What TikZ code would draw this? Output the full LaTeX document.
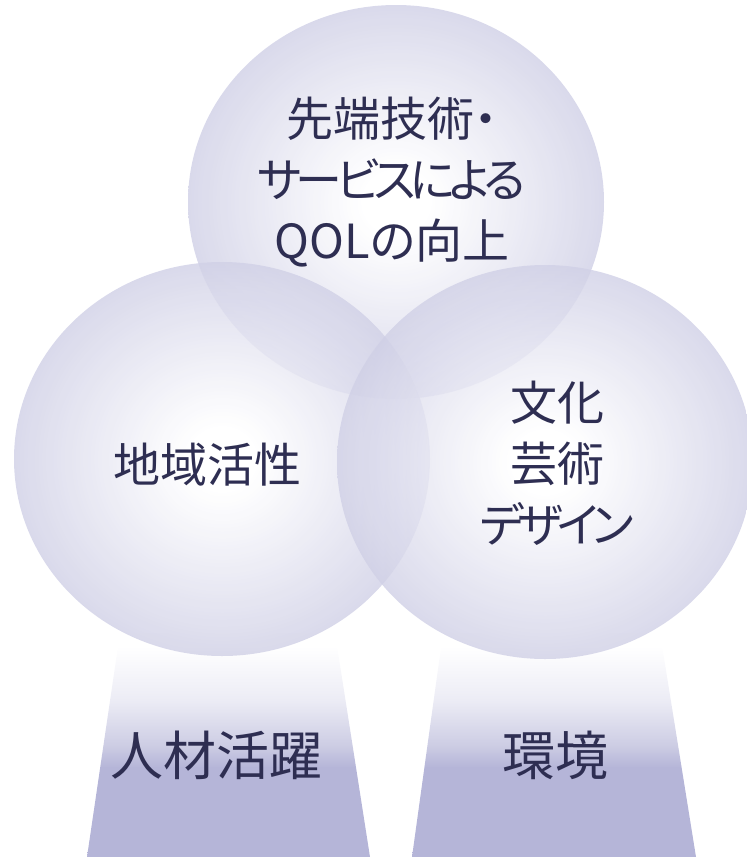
\documentclass[tikz,border=0pt]{standalone}
\usepackage{fontspec}
\usetikzlibrary{shapes.geometric}
\newfontfamily\jp{Noto Sans CJK JP}[RawFeature=+palt]
\newcommand\nk{\kern-6pt}
\definecolor{cEdge}{RGB}{208,208,230}
\definecolor{cPil}{RGB}{181,181,216}
\definecolor{cPilMid}{RGB}{205,205,228}
\definecolor{cPilHi}{RGB}{236,236,245}
\definecolor{cTxt}{RGB}{46,46,82}
\pgfdeclareradialshading{circfill}{\pgfpoint{0bp}{0bp}}{color(0bp)=(white); color(4bp)=(white); color(25bp)=(cEdge); color(50bp)=(cEdge)}
\pgfdeclareverticalshading{pillar}{100bp}{color(0bp)=(cPil); color(45bp)=(cPil); color(50bp)=(cPilMid); color(60bp)=(cPilHi); color(72bp)=(white); color(100bp)=(white)}
\tikzset{
  bubble/.style={ellipse, minimum width=416pt, minimum height=394pt, inner sep=0pt, shade, shading=circfill, fill opacity=0.8, draw=none},
  pillarbox/.style={shade, shading=pillar},
  lbl/.style={text=cTxt, align=center, inner sep=0pt, font=\jp\fontsize{47}{61}\selectfont},
  biglbl/.style={text=cTxt, align=center, inner sep=0pt, font=\jp\fontsize{53}{64}\selectfont},
}
\begin{document}
\begin{tikzpicture}[x=1pt,y=-1pt]
\useasboundingbox (0,0) rectangle (747,857);
% pillars
\path[pillarbox] (120,633) -- (335,633) -- (370,857) -- (87,857) -- cycle;
\path[pillarbox] (443,633) -- (660,633) -- (696,857) -- (412,857) -- cycle;
% circles
\node[bubble] (cTop) at (396,202) {};
\node[bubble] (cLeft) at (222,459) {};
\node[bubble] (cRight) at (545,462) {};
% labels
\node[lbl] (tTop) at (392,182) {先端技術・\\サ\nk ー\nk ビ\nk ス\nk に\nk よ\nk る\\QOLの向上};
\node[lbl] (tLeft) at (207,465) {地域活性};
\node[lbl] (tRight) at (557,463) {文化\\芸術\\デ\nk ザ\nk イ\nk ン};
\node[biglbl] (pLeft) at (216,755) {人材活躍};
\node[biglbl] (pRight) at (555,755) {環境};
\end{tikzpicture}
\end{document}
